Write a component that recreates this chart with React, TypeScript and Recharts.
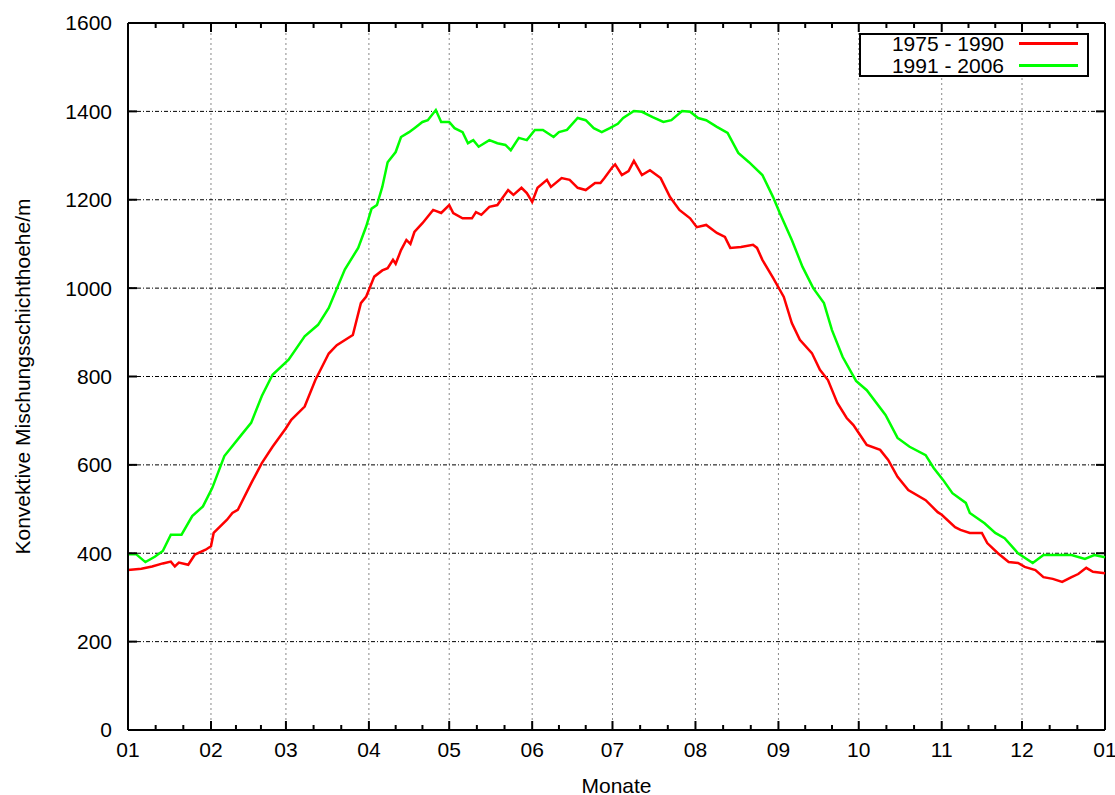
import { LineChart, Line, XAxis, YAxis, CartesianGrid, Legend, ReferenceLine } from 'recharts';

const FONT = '"Liberation Sans", Arial, Helvetica, sans-serif';
const W = 1115;
const H = 795;
const MARGIN = { top: 23, right: 10, left: 0, bottom: 0 };
const PLOT_TOP = MARGIN.top;
const PLOT_RIGHT = W - MARGIN.right;
const X_DOMAIN = [0, 365];

// day of year where each month starts (last one = next Jan 1)
const MONTH_STARTS = [0, 31, 59, 90, 120, 151, 181, 212, 243, 273, 304, 334, 365];
const MONTH_LABELS = ['01', '02', '03', '04', '05', '06', '07', '08', '09', '10', '11', '12', '01'];
const Y_TICKS = [0, 200, 400, 600, 800, 1000, 1200, 1400, 1600];

const redDays = [
  0, 5, 9, 13, 16, 17.5, 19, 22.5, 25, 29, 31, 32, 37, 39, 41, 46, 50, 54, 59, 61, 66, 70, 75, 78, 84, 87,
  89, 92, 95, 97, 99, 100, 102, 104, 105.5, 107, 110, 114, 117, 120, 121.5, 125, 128.5, 130, 132, 135, 138,
  142, 144, 147, 149, 151, 153, 156.5, 158, 162, 165, 168, 171, 174.5, 176.5, 178, 181, 182, 184.5, 187, 189,
  192, 195, 199, 202.5, 206, 210, 212.5, 216, 220, 223, 225, 229, 233.5, 235, 237, 241, 245, 248, 251, 255.5,
  258.5, 261.5, 265, 268.5, 271, 273, 276, 281, 284, 287.5, 291.5, 298, 302.5, 304, 309, 311, 314.5, 319,
  321, 325, 329, 332.5, 335, 339, 342, 345.5, 349, 352.5, 355, 358, 360.5, 365,
];
const redValues = [
  362, 365, 370, 377, 381, 370, 379, 374, 397, 408, 416, 446, 476, 491, 498, 558, 604, 641, 683, 702, 732, 792,
  852, 871, 894, 966, 981, 1026, 1040, 1045, 1064, 1055, 1086, 1109, 1100, 1127, 1147, 1177, 1170, 1188, 1170,
  1158, 1158, 1172, 1166, 1184, 1188, 1222, 1211, 1227, 1215, 1195, 1227, 1245, 1229, 1249, 1245, 1227, 1222,
  1238, 1238, 1249, 1274, 1280, 1256, 1265, 1288, 1256, 1267, 1249, 1206, 1177, 1158, 1138, 1143, 1125, 1116,
  1091, 1093, 1098, 1091, 1064, 1023, 980, 921, 883, 853, 815, 792, 740, 706, 690, 672, 645, 634, 611, 573,
  543, 520, 493, 487, 459, 453, 446, 446, 423, 400, 380, 378, 369, 362, 346, 342, 335, 346, 353, 367, 358, 355,
];

const greenDays = [
  0, 3, 6.5, 10, 13, 16, 20, 24, 28, 31.5, 36, 42.5, 46, 50, 54, 60, 66, 71, 75, 81, 86, 89, 91, 93, 95, 97,
  100, 102, 105, 107, 110, 112, 115, 117, 120, 122, 125, 127, 129, 131, 135, 138, 141, 143, 146, 149, 152, 155,
  159, 161, 164, 168, 171, 174, 177, 180, 183, 185, 189, 192, 196, 200, 203, 207, 210, 213, 216, 220, 224, 228,
  232, 237, 241, 243.5, 248, 252, 256, 260, 263, 267, 272, 276, 283, 287.5, 292, 298, 301, 304.5, 308, 313,
  314.5, 320, 324, 327.5, 332.5, 338, 342, 347, 352.5, 357.5, 361, 365,
];
const greenValues = [
  398, 398, 380, 392, 405, 442, 442, 484, 506, 548, 620, 669, 695, 756, 804, 838, 891, 917, 955, 1042, 1091,
  1140, 1180, 1188, 1229, 1285, 1308, 1342, 1353, 1362, 1376, 1380, 1403, 1376, 1376, 1362, 1353, 1328, 1335,
  1320, 1335, 1328, 1324, 1312, 1340, 1335, 1358, 1358, 1342, 1353, 1358, 1385, 1380, 1362, 1353, 1362, 1372,
  1385, 1401, 1399, 1387, 1376, 1380, 1401, 1399, 1385, 1380, 1365, 1351, 1306, 1285, 1256, 1206, 1170, 1109,
  1048, 1000, 966, 905, 844, 790, 769, 713, 661, 641, 622, 593, 566, 536, 514, 491, 468, 446, 434, 400, 378,
  396, 396, 396, 387, 396, 391,
];

const SERIES = [
  { name: '1975 - 1990', color: '#ff0000', data: redDays.map((d, i) => ({ day: d, v: redValues[i] })) },
  { name: '1991 - 2006', color: '#00ff00', data: greenDays.map((d, i) => ({ day: d, v: greenValues[i] })) },
];

// two minor ticks inside each month
const MINOR_TICKS = MONTH_STARTS.slice(0, -1).flatMap((s, i) => {
  const len = MONTH_STARTS[i + 1] - s;
  return [s + len / 3, s + (2 * len) / 3];
});
const X_TICKS = [...MONTH_STARTS, ...MINOR_TICKS].sort((a, b) => a - b);

const X_TICK_OFFSET = 12; // tickSize + tickMargin of the x axis
const Y_TICK_OFFSET = 16; // tickSize + tickMargin of the y axis

// gnuplot style: ticks point inward, mirrored on the opposite border
const XTick = ({ x, y, payload }: any) => {
  const idx = MONTH_STARTS.indexOf(payload.value);
  const major = idx >= 0;
  const len = major ? 9 : 5;
  const axisY = y - X_TICK_OFFSET;
  return (
    <g>
      <line x1={x} x2={x} y1={axisY} y2={axisY - len} stroke="#000" strokeWidth={2} />
      <line x1={x} x2={x} y1={PLOT_TOP} y2={PLOT_TOP + len} stroke="#000" strokeWidth={2} />
      {major && (
        <text x={x} y={y} dy="0.71em" textAnchor="middle" fill="#000" fontSize={21} fontFamily={FONT}>
          {MONTH_LABELS[idx]}
        </text>
      )}
    </g>
  );
};

const YTick = ({ x, y, payload }: any) => {
  const axisX = x + Y_TICK_OFFSET;
  return (
    <g>
      <line x1={axisX} x2={axisX + 9} y1={y} y2={y} stroke="#000" strokeWidth={2} />
      <line x1={PLOT_RIGHT - 9} x2={PLOT_RIGHT} y1={y} y2={y} stroke="#000" strokeWidth={2} />
      <text x={x} y={y} dy="0.355em" textAnchor="end" fill="#000" fontSize={21} fontFamily={FONT}>
        {payload.value}
      </text>
    </g>
  );
};

// vertical grid only at month starts, not at the minor ticks
const monthGrid = ({ offset }: any) =>
  MONTH_STARTS.map((d) => offset.left + ((d - X_DOMAIN[0]) / (X_DOMAIN[1] - X_DOMAIN[0])) * offset.width);

const renderLegend = () => (
  <div
    style={{
      border: '2px solid #000',
      background: '#fff',
      width: 226,
      height: 40,
      fontFamily: FONT,
      fontSize: 21,
      color: '#000',
    }}
  >
    {SERIES.map((s, i) => (
      <div key={s.name} style={{ display: 'flex', alignItems: 'center', height: 21, marginTop: i === 0 ? -2 : 1 }}>
        <span style={{ width: 143, textAlign: 'right', lineHeight: '21px' }}>{s.name}</span>
        <span style={{ marginLeft: 15, width: 59, height: 3, background: s.color }} />
      </div>
    ))}
  </div>
);

export default function App() {
  return (
    <div style={{ position: 'absolute', left: 0, top: 0, background: '#fff' }}>
      <LineChart width={W} height={H} margin={MARGIN}>
        <CartesianGrid horizontal={false} stroke="#888" strokeDasharray="2 3" verticalCoordinatesGenerator={monthGrid} />
        <CartesianGrid vertical={false} stroke="#000" strokeDasharray="4 2 1 2" />
        <XAxis
          dataKey="day"
          type="number"
          domain={X_DOMAIN}
          ticks={X_TICKS}
          interval={0}
          tick={<XTick />}
          tickLine={false}
          tickSize={8}
          tickMargin={4}
          axisLine={{ stroke: '#000', strokeWidth: 2 }}
          height={65}
          label={({ viewBox }: any) => (
            <text
              x={viewBox.x + viewBox.width / 2}
              y={viewBox.y + 55}
              textAnchor="middle"
              dominantBaseline="central"
              fill="#000"
              fontSize={21}
              fontFamily={FONT}
            >
              Monate
            </text>
          )}
        />
        <YAxis
          type="number"
          domain={[0, 1600]}
          ticks={Y_TICKS}
          interval={0}
          tick={<YTick />}
          tickLine={false}
          tickSize={8}
          tickMargin={8}
          axisLine={{ stroke: '#000', strokeWidth: 2 }}
          width={128}
          label={({ viewBox }: any) => {
            const x = viewBox.x + 22;
            const y = viewBox.y + viewBox.height / 2;
            return (
              <text
                x={x}
                y={y}
                transform={`rotate(-90, ${x}, ${y})`}
                textAnchor="middle"
                dominantBaseline="central"
                fill="#000"
                fontSize={21}
                fontFamily={FONT}
              >
                Konvektive Mischungsschichthoehe/m
              </text>
            );
          }}
        />
        <ReferenceLine y={1600} stroke="#000" strokeWidth={2} />
        <ReferenceLine x={365} stroke="#000" strokeWidth={2} />
        <Legend
          layout="horizontal"
          verticalAlign="middle"
          align="center"
          content={renderLegend}
          wrapperStyle={{ top: 33, left: 859, width: 'auto', height: 'auto' }}
        />
        {SERIES.map((s) => (
          <Line
            key={s.name}
            data={s.data}
            dataKey="v"
            name={s.name}
            type="linear"
            stroke={s.color}
            strokeWidth={2.5}
            dot={false}
            activeDot={false}
            isAnimationActive={false}
          />
        ))}
      </LineChart>
    </div>
  );
}
